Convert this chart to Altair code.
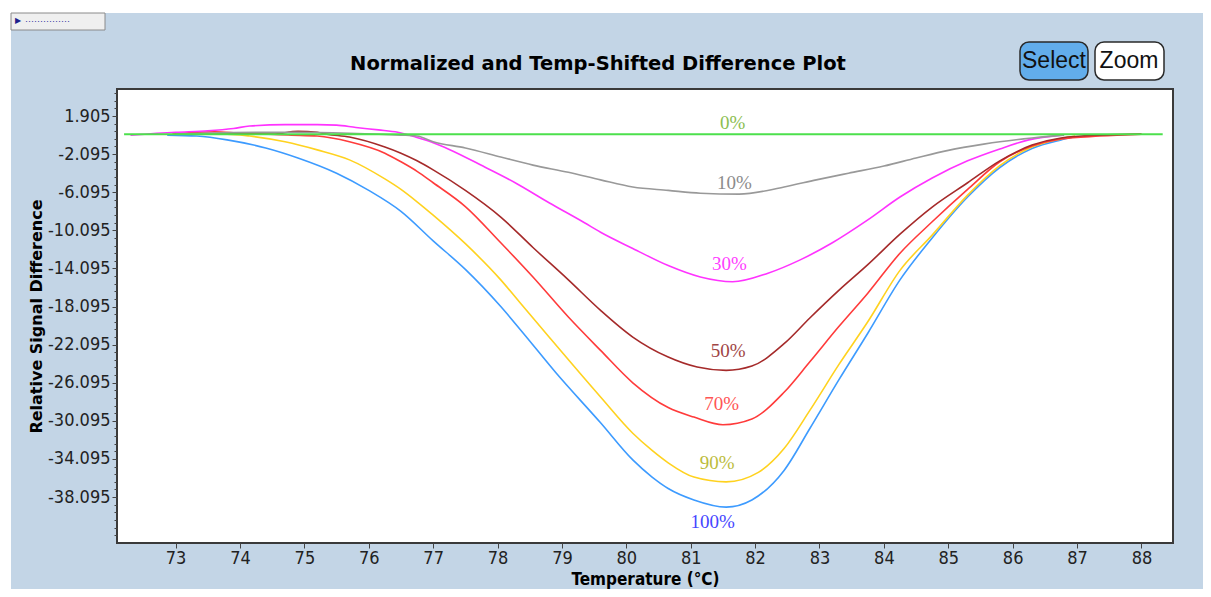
import altair as alt
import pandas as pd

# ---------------- data ----------------
series_names = ["100%", "90%", "70%", "50%", "30%", "10%", "0%"]
line_colors = ["#3D9BFF", "#FFD21F", "#FF3B3B", "#A52A2A", "#FF33FF", "#999999", "#4CE04C"]
label_colors = ["#4646FF", "#BCBC3C", "#FF5555", "#A04545", "#FF40FF", "#8C8C8C", "#8CBE50"]

temp_100 = [72.87, 73.33, 73.8, 74.4, 74.9, 75.5, 76.0, 76.5, 77.0, 77.5, 78.05, 78.4, 78.9,
            79.6, 80.1, 80.4, 80.65, 81.05, 81.55, 81.95, 82.45, 82.85, 83.3, 83.75, 84.25,
            84.75, 85.3, 85.8, 86.3, 86.75, 86.95]
diff_100 = [-0.1, -0.2, -0.6, -1.45, -2.5, -4.1, -5.9, -8.1, -11.2, -14.2, -18.1, -20.9, -25.0,
            -30.3, -34.2, -36.0, -37.2, -38.4, -39.15, -38.4, -35.3, -30.9, -25.8, -20.9, -15.3,
            -10.9, -6.6, -3.5, -1.5, -0.6, -0.3]

temp_90 = [73.0, 73.8, 74.15, 74.7, 75.2, 75.7, 76.25, 76.5, 76.75, 77.0, 77.5, 78.05, 78.35,
           78.8, 79.6, 80.1, 80.4, 80.65, 81.05, 81.55, 82.05, 82.45, 82.85, 83.3, 83.75, 84.25,
           84.75, 85.3, 85.8, 86.3, 86.75, 86.97]
diff_90 = [0.0, 0.0, -0.2, -0.8, -1.65, -2.7, -4.7, -5.8, -7.1, -8.5, -11.5, -15.3, -17.7,
           -21.3, -27.6, -31.4, -33.2, -34.5, -36.0, -36.5, -35.5, -33.0, -29.0, -24.2, -19.7,
           -14.3, -10.6, -6.4, -3.3, -1.35, -0.5, -0.2]

temp_70 = [72.95, 73.6, 74.0, 74.8, 75.2, 75.7, 76.25, 76.5, 76.75, 77.0, 77.5, 78.05, 78.55,
           79.1, 79.6, 80.1, 80.65, 81.05, 81.5, 81.95, 82.45, 82.85, 83.3, 83.75, 84.25, 84.75,
           85.3, 85.8, 86.3, 86.75, 87.35, 88.0]
diff_70 = [0.0, 0.25, 0.1, -0.1, -0.2, -0.8, -2.0, -2.9, -3.9, -5.1, -7.6, -11.4, -15.0,
           -19.2, -22.7, -26.1, -28.7, -29.7, -30.5, -29.9, -27.1, -23.9, -20.2, -16.7, -12.5,
           -9.2, -5.8, -2.9, -1.25, -0.5, -0.2, 0.0]

temp_50 = [73.0, 74.5, 74.9, 75.2, 75.35, 75.7, 76.25, 76.5, 76.75, 77.0, 77.5, 78.05, 78.55,
           79.1, 79.6, 80.1, 80.65, 81.1, 81.55, 81.95, 82.45, 82.85, 83.3, 83.75, 84.25, 84.75,
           85.3, 85.8, 86.3, 86.75, 87.35, 88.0]
diff_50 = [0.0, 0.0, 0.3, 0.2, 0.0, -0.3, -1.35, -2.0, -2.8, -3.75, -5.9, -8.7, -11.9,
           -15.3, -18.5, -21.3, -23.4, -24.45, -24.8, -24.35, -22.0, -19.3, -16.4, -13.7, -10.5,
           -7.65, -5.1, -2.8, -1.15, -0.4, -0.1, 0.0]

temp_30 = [72.3, 73.0, 73.5, 73.9, 74.15, 74.7, 75.2, 75.5, 75.8, 76.15, 76.45, 76.75, 77.0,
           77.25, 77.8, 78.3, 78.8, 79.35, 79.6, 80.1, 80.65, 81.15, 81.65, 82.2, 82.7, 83.2,
           83.75, 84.25, 84.75, 85.3, 85.8, 86.25, 86.75]
diff_30 = [-0.1, 0.2, 0.35, 0.6, 0.85, 1.0, 1.0, 0.95, 0.7, 0.45, 0.2, -0.35, -0.9,
           -1.6, -3.45, -5.2, -7.2, -9.3, -10.3, -12.0, -13.8, -15.0, -15.5, -14.6, -13.2, -11.4,
           -9.0, -6.6, -4.6, -2.8, -1.55, -0.6, -0.1]

temp_10 = [73.0, 74.25, 74.85, 75.7, 76.5, 76.75, 77.0, 77.5, 78.05, 78.55, 79.1, 79.6, 80.1,
           80.65, 81.15, 81.75, 82.45, 82.95, 83.45, 84.0, 84.5, 85.0, 85.55, 85.8, 86.3, 86.8]
diff_10 = [0.0, 0.2, 0.2, 0.1, -0.1, -0.2, -0.8, -1.45, -2.4, -3.25, -4.0, -4.8, -5.55,
           -5.9, -6.2, -6.3, -5.55, -4.8, -4.1, -3.35, -2.5, -1.7, -1.05, -0.8, -0.4, -0.1]

temp_0 = [72.2, 80.0, 88.33]
diff_0 = [0.0, 0.0, 0.0]

label_temp = [81.34, 81.41, 81.48, 81.58, 81.6, 81.68, 81.65]
label_diff = [-40.73, -34.53, -28.33, -22.77, -13.6, -5.13, 1.17]

x_tick_values = list(range(73, 89))
y_major_ticks = [round(1.905 - 4 * k, 3) for k in range(11)]
y_minor_ticks = [round(1.905 + 0.8 * k, 3) for k in range(-55, 4)]

# ---------------- tables ----------------
temps = dict(zip(series_names, [temp_100, temp_90, temp_70, temp_50, temp_30, temp_10, temp_0]))
diffs = dict(zip(series_names, [diff_100, diff_90, diff_70, diff_50, diff_30, diff_10, diff_0]))
rows = []
for s in series_names:
    for i, (t, v) in enumerate(zip(temps[s], diffs[s])):
        rows.append((s, i, t, v))
curves = pd.DataFrame(rows, columns=["series", "idx", "temp", "diff"])
labels = pd.DataFrame({"label": series_names, "temp": label_temp, "diff": label_diff,
                       "lcolor": label_colors})
one = pd.DataFrame({"k": [0]})

NARROW = "DejaVu Sans Condensed, Liberation Sans, sans-serif"
x_scale = alt.Scale(domain=[72.09, 88.49], nice=False, zero=False)
y_scale = alt.Scale(domain=[-42.92, 4.74], nice=False, zero=False)

x_axis = alt.Axis(values=x_tick_values, format="d", tickSize=5, tickColor="#444", domain=False,
                  grid=False, labelFont=NARROW, labelFontSize=18, labelColor="#222",
                  labelPadding=1, labelFlush=False, title="Temperature (°C)", titleFont=NARROW,
                  titleFontSize=17, titleFontWeight="bold", titleColor="black", titlePadding=4)
y_axis = alt.Axis(values=y_major_ticks, orient="left", tickSize=5, tickColor="#444", domain=False,
                  grid=False, labelFont=NARROW, labelFontSize=18, labelColor="#222",
                  labelPadding=2, labelFlush=False,
                  labelExpr="datum.value < 0 ? '-' + format(-datum.value, '.3f') : format(datum.value, '.3f')",
                  title="Relative Signal Difference", titleFont="DejaVu Sans", titleFontSize=16,
                  titleFontWeight="bold", titleColor="black", titlePadding=3)
y_minor_axis = alt.Axis(values=y_minor_ticks, orient="left", tickSize=3, tickColor="#444",
                        domain=False, grid=False, labels=False, title=None)

X = alt.X("temp:Q", scale=x_scale, axis=x_axis)

nonzero = curves[curves["series"] != "0%"]
zero = curves[curves["series"] == "0%"]

lines = alt.Chart(nonzero).mark_line(strokeWidth=1.6, interpolate="monotone").encode(
    x=X,
    y=alt.Y("diff:Q", scale=y_scale, axis=y_axis),
    color=alt.Color("series:N", scale=alt.Scale(domain=series_names, range=line_colors), legend=None),
    detail="series:N",
    order="idx:Q",
)
zero_line = alt.Chart(zero).mark_line(strokeWidth=2, color=line_colors[-1]).encode(
    x=X,
    y=alt.Y("diff:Q", scale=y_scale, axis=None),
    order="idx:Q",
)
minor = alt.Chart(zero).mark_line(opacity=0).encode(
    x=X,
    y=alt.Y("diff:Q", scale=y_scale, axis=y_minor_axis),
)
curve_labels = alt.Chart(labels).mark_text(font="Liberation Serif", fontSize=19,
                                           align="center", baseline="middle").encode(
    x=X,
    y=alt.Y("diff:Q", scale=y_scale, axis=None),
    text="label:N",
    color=alt.Color("lcolor:N", scale=None),
)

# ---------------- decorations (window chrome) ----------------
deco = [
    alt.Chart(one).mark_rect(fill="white").encode(
        x=alt.value(-109), x2=alt.value(1086), y=alt.value(-81), y2=alt.value(-76)),
    alt.Chart(one).mark_rect(fill="white").encode(
        x=alt.value(-109), x2=alt.value(-106), y=alt.value(-81), y2=alt.value(500)),
    alt.Chart(one).mark_rect(fill="#EFEFEF", stroke="#8A8A8A", strokeWidth=1).encode(
        x=alt.value(-106), x2=alt.value(-12), y=alt.value(-76), y2=alt.value(-59)),
    alt.Chart(one).mark_text(text="▶", fontSize=8, color="#1E1E8C", align="left",
                             baseline="middle").encode(x=alt.value(-102), y=alt.value(-68)),
    alt.Chart(one).mark_text(text="···············", fontSize=9, color="#3030A0", align="left",
                             baseline="middle").encode(x=alt.value(-92), y=alt.value(-68)),
    alt.Chart(one).mark_text(text="Normalized and Temp-Shifted Difference Plot", font="DejaVu Sans",
                             fontWeight="bold", fontSize=19.5, color="black", align="center",
                             baseline="middle").encode(x=alt.value(481), y=alt.value(-25)),
    alt.Chart(one).mark_rect(fill="#62ADEB", stroke="#2A2A2A", strokeWidth=1.5, cornerRadius=9).encode(
        x=alt.value(903), x2=alt.value(971), y=alt.value(-47), y2=alt.value(-9)),
    alt.Chart(one).mark_rect(fill="white", stroke="#2A2A2A", strokeWidth=1.5, cornerRadius=9).encode(
        x=alt.value(978), x2=alt.value(1047), y=alt.value(-47), y2=alt.value(-9)),
    alt.Chart(one).mark_text(text="Select", font="Liberation Sans", fontSize=23, color="#111",
                             align="center", baseline="middle").encode(x=alt.value(937), y=alt.value(-28)),
    alt.Chart(one).mark_text(text="Zoom", font="Liberation Sans", fontSize=23, color="#111",
                             align="center", baseline="middle").encode(x=alt.value(1012), y=alt.value(-28)),
]

chart = alt.layer(lines, zero_line, minor, curve_labels, *deco).properties(
    width=1056,
    height=454,
    background="#C3D5E6",
    padding={"left": 109, "top": 81, "right": 30, "bottom": 46},
    autosize=alt.AutoSizeParams(type="none"),
).resolve_axis(y="independent").configure_view(stroke="#3A3A3A", strokeWidth=2, fill="white")

chart.save("out.html", embed_options={"renderer": "svg", "actions": False})
